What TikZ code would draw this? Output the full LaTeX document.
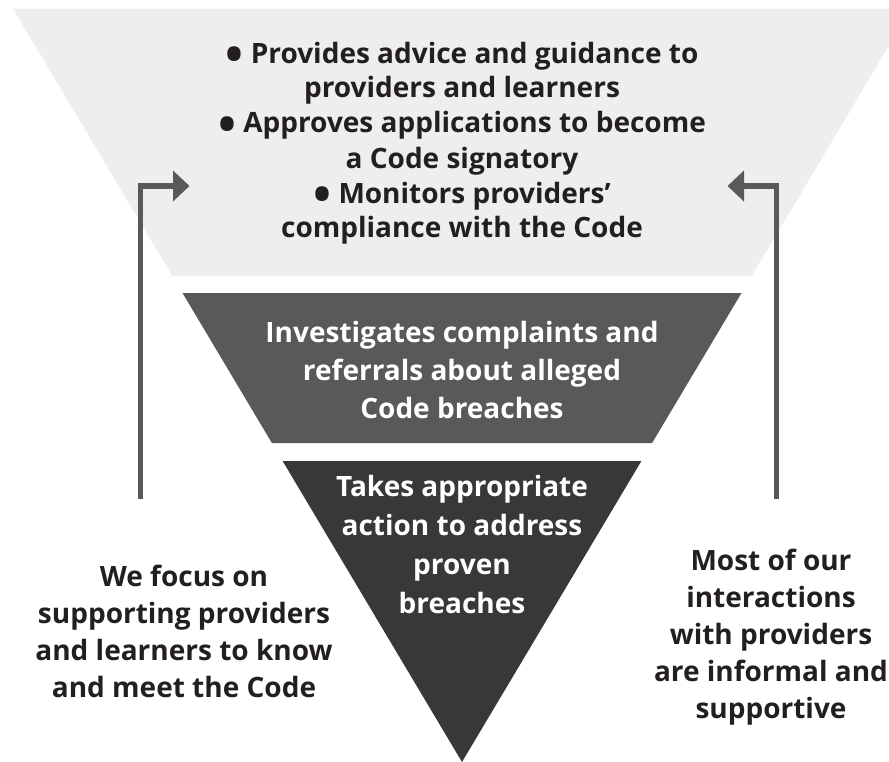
\documentclass[tikz,border=0pt]{standalone}
\usepackage{fontspec}
\setmainfont{Open Sans}
\usetikzlibrary{arrows.meta}
\definecolor{band pale}{HTML}{EEEEEE}
\definecolor{band mid}{HTML}{58595B}
\definecolor{band deep}{HTML}{383838}
\definecolor{ink}{HTML}{231F20}
% a larger list bullet, kept near the x-height
\newcommand{\listbullet}{\smash{\raisebox{-0.3em}{\scalebox{1.7}{\textbullet}}}}
\tikzset{
	funnel/.is family,
	funnel/.cd,
	% anchor base sits on the last line of a multi-line node
	caption/.style = {
		align = center,
		anchor = base,
		inner sep = 0pt,
		outer sep = 0pt,
		text = ink,
		font = \fontsize{28}{35}\selectfont\bfseries,
	},
	reverse caption/.style = {
		funnel/caption,
		text = white,
	},
	loop arrow/.style = {
		draw = band mid,
		line width = 5.5pt,
		line join = miter,
		-{Triangle[length = 16.5pt, width = 30pt]},
	},
}

\begin{document}
\begin{tikzpicture}[x = 1pt, y = -1pt]
	\useasboundingbox (0, 0) rectangle (889, 762);

	% three slices of one inverted triangle, apex at (462, 762)
	\fill[band pale] (13.2, 9) -- (910.8, 9) -- (751.7, 276) -- (172.3, 276) -- cycle;
	\fill[band mid] (182.5, 293) -- (741.5, 293) -- (652.1, 443) -- (271.9, 443) -- cycle;
	\fill[band deep] (282.6, 461) -- (641.4, 461) -- (462, 762) -- cycle;

	\node[funnel/caption] (duties) at (462, 238) {%
		\listbullet{} Provides advice and guidance to\\
		providers and learners\\
		\listbullet{} Approves applications to become\\
		a Code signatory\\
		\listbullet{} Monitors providers’\\
		compliance with the Code};
	\node[funnel/reverse caption, font = \fontsize{28}{38}\selectfont\bfseries] (inquiry) at (462, 418) {%
		Investigates complaints and\\
		referrals about alleged\\
		Code breaches};
	\node[funnel/reverse caption, font = \fontsize{28}{39}\selectfont\bfseries] (action) at (462, 613) {%
		Takes appropriate\\
		action to address\\
		proven\\
		breaches};

	\node[funnel/caption, font = \fontsize{28}{37}\selectfont\bfseries] (focus) at (184, 697) {%
		We focus on\\
		supporting providers\\
		and learners to know\\
		and meet the Code};
	\node[funnel/caption, font = \fontsize{28}{37}\selectfont\bfseries] (informal) at (771, 718) {%
		Most of our\\
		interactions\\
		with providers\\
		are informal and\\
		supportive};

	% feedback arrows up into the top band
	\coordinate (left foot) at (140.5, 499);
	\coordinate (left tip) at (189.5, 186);
	\coordinate (right foot) at (776.5, 499);
	\coordinate (right tip) at (727.5, 186);
	\draw[funnel/loop arrow] (left foot) |- (left tip);
	\draw[funnel/loop arrow] (right foot) |- (right tip);
\end{tikzpicture}
\end{document}
